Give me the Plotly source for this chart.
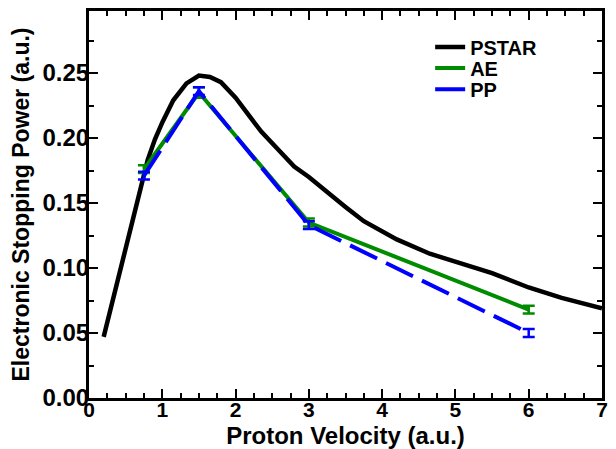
import plotly.graph_objects as go

# PSTAR reference curve
pstar_x = [0.2, 0.4, 0.6, 0.7, 0.8, 0.9, 1.0, 1.15, 1.33, 1.5, 1.65, 1.8, 2.0, 2.2, 2.35, 2.6,
           2.8, 3.0, 3.25, 3.5, 3.75, 4.2, 4.65, 5.1, 5.5, 6.0, 6.45, 7.0]
pstar_y = [0.047, 0.093, 0.140, 0.163, 0.183, 0.199, 0.212, 0.229, 0.242, 0.248, 0.247, 0.243,
           0.231, 0.216, 0.205, 0.190, 0.178, 0.170, 0.158, 0.147, 0.136, 0.122, 0.111, 0.103,
           0.096, 0.085, 0.077, 0.069]

# AE (all-electron)
ae_x = [0.75, 1.5, 3.0, 6.0]
ae_y = [0.176, 0.235, 0.135, 0.068]
ae_err = [0.003, 0.004, 0.003, 0.003]

# PP (pseudopotential)
pp_x = [0.75, 1.5, 3.0, 6.0]
pp_y = [0.171, 0.236, 0.133, 0.050]
pp_err = [0.003, 0.003, 0.003, 0.003]

x_ticks = [0, 1, 2, 3, 4, 5, 6, 7]
y_ticks = [0.00, 0.05, 0.10, 0.15, 0.20, 0.25]
y_labels = ["0.00", "0.05", "0.10", "0.15", "0.20", "0.25"]

FONT = "Liberation Sans, Arial, sans-serif"
GREEN = "rgb(0,140,0)"
BLUE = "rgb(0,0,255)"

fig = go.Figure()
fig.add_trace(go.Scatter(x=pstar_x, y=pstar_y, mode="lines", name="PSTAR", legend="legend",
                         line=dict(color="black", width=4.5)))
fig.add_trace(go.Scatter(x=ae_x, y=ae_y, mode="lines", name="AE", legend="legend2",
                         line=dict(color=GREEN, width=4),
                         error_y=dict(type="data", array=ae_err, color=GREEN,
                                      thickness=2.5, width=6)))
fig.add_trace(go.Scatter(x=pp_x, y=pp_y, mode="lines", name="PP", legend="legend3",
                         line=dict(color=BLUE, width=4, dash="30px,10px"),
                         error_y=dict(type="data", array=pp_err, color=BLUE,
                                      thickness=2.5, width=6)))

axis_common = dict(showline=True, linecolor="black", linewidth=3, mirror="allticks",
                   ticks="inside", tickcolor="black", tickwidth=2, ticklen=9,
                   showgrid=False, zeroline=False, automargin=False)

fig.update_xaxes(range=[0, 7], tickvals=x_ticks, ticklabelstandoff=-9,
                 tickfont=dict(family=FONT, size=21, color="black", weight="bold"),
                 minor=dict(dtick=0.25, ticks="inside", ticklen=5, tickwidth=2,
                            tickcolor="black", showgrid=False),
                 title=dict(text="Proton Velocity (a.u.)", standoff=19,
                            font=dict(family=FONT, size=24, color="black", weight="bold")),
                 **axis_common)
fig.update_yaxes(range=[0, 0.2977], tickvals=y_ticks, ticktext=y_labels,
                 ticklabelstandoff=-8,
                 tickfont=dict(family=FONT, size=24, color="black", weight="bold"),
                 minor=dict(tickvals=[0.025, 0.075, 0.125, 0.175, 0.225, 0.275],
                            ticks="inside", ticklen=5, tickwidth=2,
                            tickcolor="black", showgrid=False),
                 title=dict(text="Electronic Stopping Power (a.u.)", standoff=9,
                            font=dict(family=FONT, size=23, color="black", weight="bold")),
                 **axis_common)

leg_common = dict(x=0.665, xanchor="left", yanchor="middle", bgcolor="rgba(0,0,0,0)",
                  itemwidth=30, borderwidth=0,
                  font=dict(family=FONT, size=20, color="black", weight="bold"))

fig.update_layout(
    width=608, height=441,
    margin=dict(l=81, r=14, t=3, b=51),
    paper_bgcolor="white", plot_bgcolor="white",
    showlegend=True,
    legend=dict(y=0.907, **leg_common),
    legend2=dict(y=0.853, **leg_common),
    legend3=dict(y=0.798, **leg_common),
)

fig.write_html("out.html")
